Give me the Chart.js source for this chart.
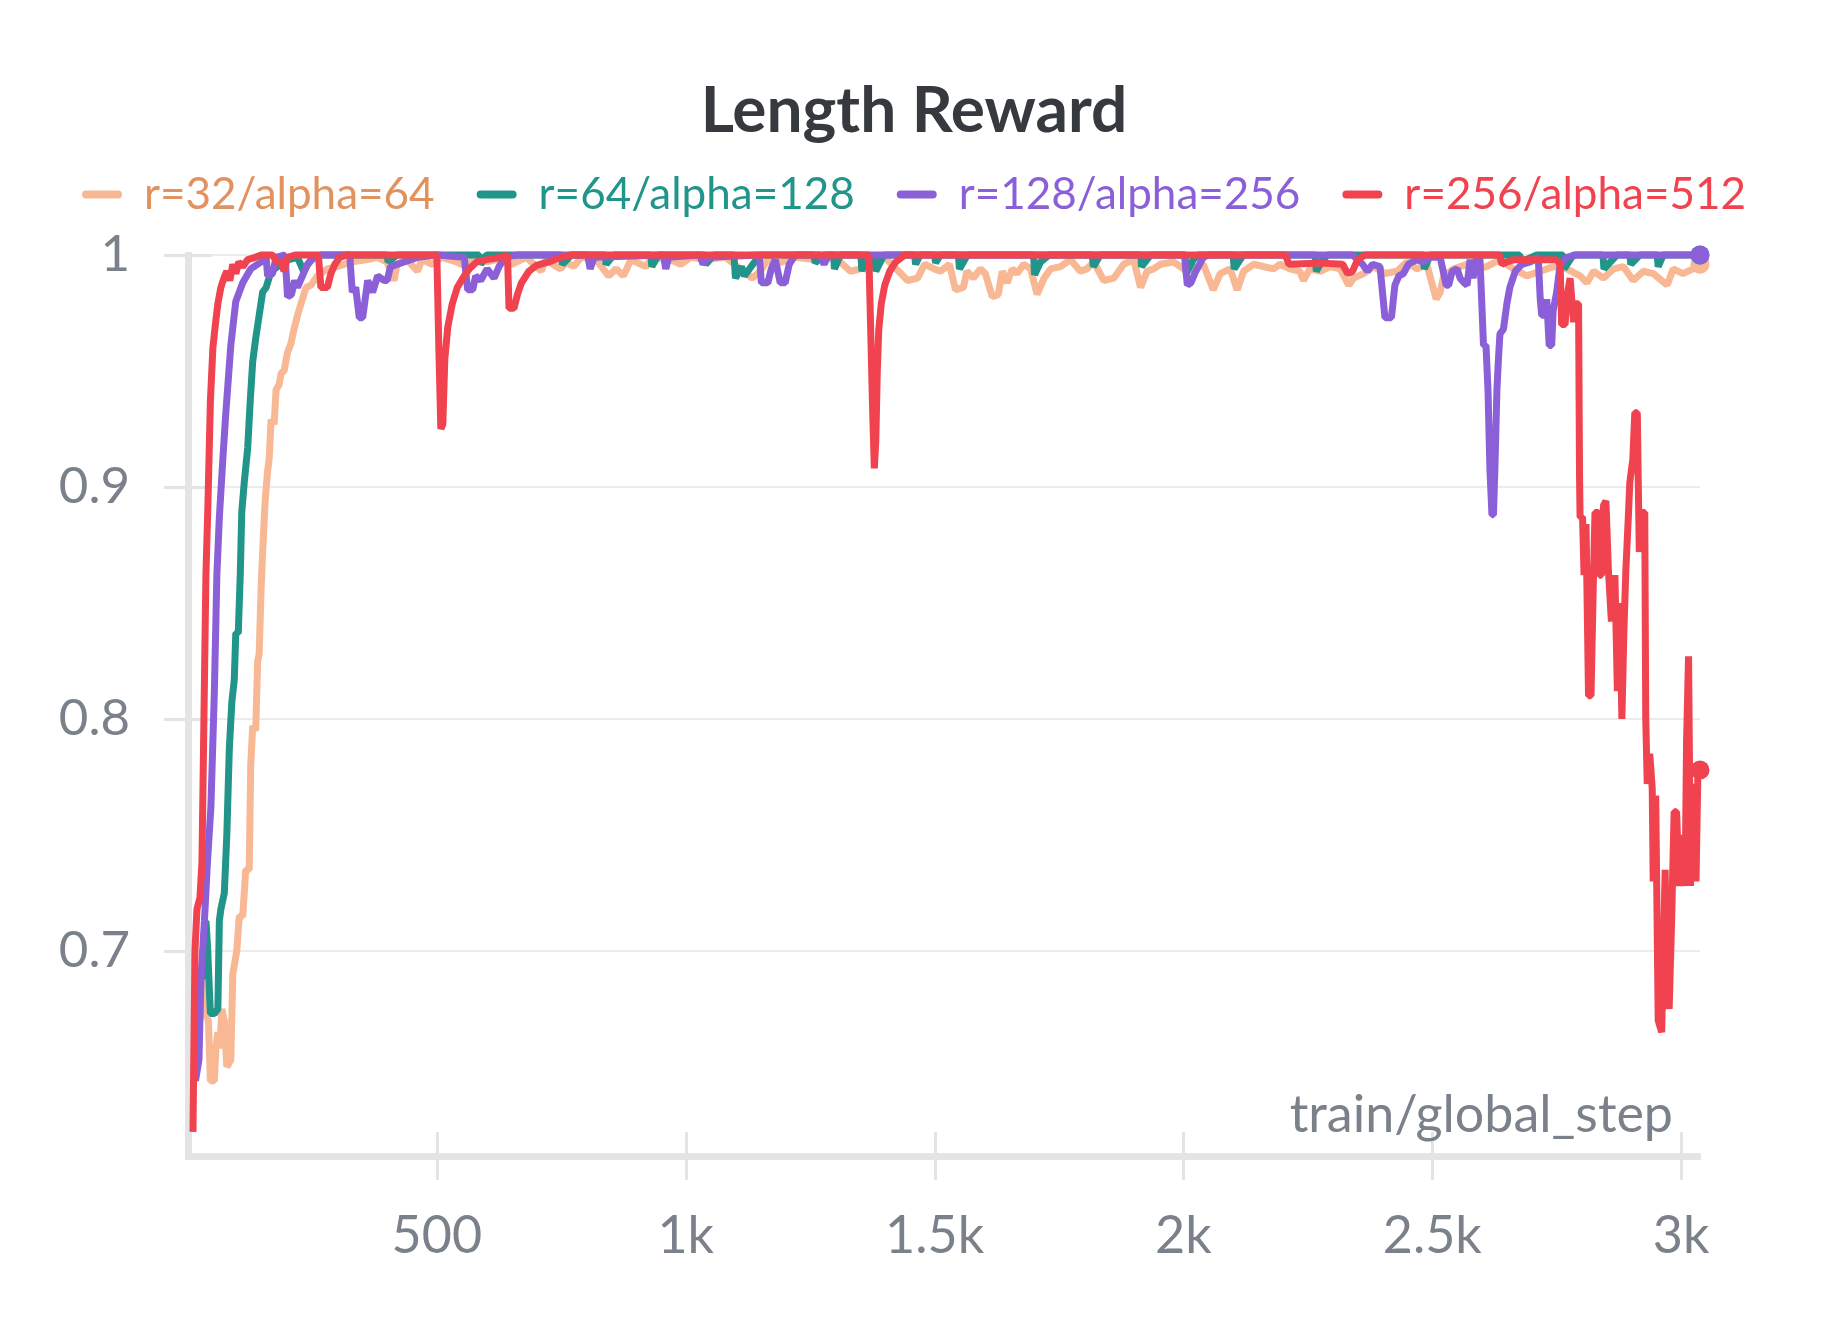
<!DOCTYPE html>
<html>
<head>
<meta charset="utf-8">
<title>Length Reward</title>
<script src="https://cdn.jsdelivr.net/npm/chart.js@4.4.1/dist/chart.umd.min.js"></script>
<style>
  html, body { margin: 0; padding: 0; background: #ffffff; }
  #wrap { width: 1828px; height: 1328px; }
</style>
</head>
<body>
<div id="wrap"><canvas id="chart1"></canvas></div>
<script>
const runNames = ['r=32/alpha=64', 'r=64/alpha=128', 'r=128/alpha=256', 'r=256/alpha=512'];
const xTicks = [500, 1000, 1500, 2000, 2500, 3000];
const yTicks = [0.7, 0.8, 0.9, 1];

// r=32/alpha=64
const orangeSteps = [26, 29, 34, 41, 45, 53, 56, 60, 64, 68, 73, 78, 86, 90, 98, 103, 110, 116, 123, 126, 130, 136, 140, 143, 147, 150, 155, 160, 163, 167, 173, 177, 183, 187, 193, 200, 207, 213, 220, 230, 237, 247, 260, 280, 300, 327, 361, 380, 400, 414, 420, 440, 461, 470, 490, 510, 540, 560, 575, 600, 620, 650, 680, 710, 718, 749, 760, 775, 790, 820, 845, 860, 875, 890, 920, 930, 960, 990, 1010, 1040, 1080, 1134, 1150, 1165, 1180, 1220, 1260, 1300, 1331, 1351, 1365, 1400, 1446, 1466, 1480, 1500, 1512, 1530, 1542, 1558, 1565, 1578, 1592, 1602, 1616, 1628, 1636, 1646, 1656, 1666, 1679, 1693, 1706, 1720, 1733, 1753, 1773, 1793, 1806, 1820, 1840, 1860, 1880, 1900, 1914, 1927, 1940, 1954, 1980, 2007, 2040, 2060, 2074, 2094, 2108, 2121, 2141, 2181, 2194, 2214, 2234, 2241, 2254, 2275, 2295, 2315, 2332, 2342, 2362, 2382, 2405, 2429, 2449, 2469, 2489, 2508, 2516, 2523, 2543, 2570, 2590, 2609, 2636, 2663, 2690, 2717, 2743, 2770, 2797, 2811, 2824, 2844, 2864, 2884, 2904, 2924, 2944, 2972, 2984, 3004, 3024, 3038];
const orangeVals = [0.690, 0.688, 0.673, 0.670, 0.644, 0.644, 0.658, 0.665, 0.658, 0.675, 0.670, 0.650, 0.653, 0.690, 0.700, 0.715, 0.715, 0.735, 0.735, 0.780, 0.797, 0.795, 0.825, 0.828, 0.857, 0.872, 0.894, 0.907, 0.912, 0.929, 0.927, 0.942, 0.944, 0.949, 0.950, 0.958, 0.962, 0.968, 0.974, 0.981, 0.986, 0.987, 0.991, 0.994, 0.995, 0.997, 0.998, 0.999, 0.997, 0.989, 0.996, 0.998, 0.993, 0.998, 0.996, 0.999, 0.997, 0.995, 0.999, 0.997, 0.998, 0.996, 0.999, 0.993, 0.998, 0.994, 0.997, 0.995, 0.999, 0.998, 0.991, 0.994, 0.991, 0.998, 0.995, 0.998, 0.999, 0.996, 0.999, 0.998, 0.999, 0.990, 0.993, 0.998, 0.996, 0.999, 0.998, 0.999, 0.993, 0.994, 0.998, 0.999, 0.989, 0.990, 0.996, 0.994, 0.993, 0.996, 0.985, 0.986, 0.993, 0.990, 0.994, 0.992, 0.982, 0.983, 0.993, 0.988, 0.994, 0.992, 0.996, 0.994, 0.983, 0.990, 0.994, 0.995, 0.998, 0.993, 0.994, 0.997, 0.989, 0.990, 0.996, 0.998, 0.986, 0.993, 0.994, 0.996, 0.997, 0.993, 0.996, 0.985, 0.992, 0.994, 0.985, 0.993, 0.996, 0.994, 0.996, 0.994, 0.993, 0.989, 0.994, 0.993, 0.995, 0.994, 0.987, 0.990, 0.992, 0.995, 0.992, 0.993, 0.997, 0.994, 0.996, 0.981, 0.984, 0.991, 0.994, 0.996, 0.994, 0.995, 0.998, 0.994, 0.991, 0.993, 0.995, 0.994, 0.991, 0.988, 0.993, 0.990, 0.994, 0.995, 0.989, 0.993, 0.992, 0.987, 0.994, 0.992, 0.994, 0.996];

// r=64/alpha=128
const tealSteps = [20, 29, 36, 39, 45, 53, 60, 63, 66, 73, 78, 83, 88, 93, 96, 101, 105, 108, 113, 120, 125, 130, 136, 143, 150, 157, 167, 180, 193, 220, 232, 250, 265, 400, 402, 420, 585, 588, 600, 750, 752, 770, 838, 840, 855, 930, 932, 945, 1038, 1040, 1057, 1097, 1100, 1112, 1118, 1135, 1150, 1258, 1260, 1277, 1297, 1299, 1311, 1352, 1354, 1365, 1380, 1382, 1398, 1460, 1462, 1471, 1500, 1502, 1512, 1548, 1550, 1566, 1699, 1701, 1713, 1730, 1817, 1819, 1833, 1914, 1916, 1934, 2004, 2006, 2020, 2030, 2100, 2102, 2120, 2265, 2267, 2280, 2290, 2482, 2484, 2496, 2676, 2678, 2710, 2763, 2765, 2783, 2843, 2845, 2871, 2897, 2899, 2917, 2952, 2954, 2964, 3038];
const tealVals = [0.690, 0.688, 0.713, 0.703, 0.673, 0.673, 0.675, 0.713, 0.718, 0.725, 0.750, 0.787, 0.807, 0.817, 0.837, 0.837, 0.862, 0.889, 0.902, 0.917, 0.937, 0.954, 0.964, 0.974, 0.984, 0.986, 0.993, 0.995, 0.9975, 0.999, 0.993, 0.999, 1, 1, 0.997, 1, 1, 0.996, 1, 1, 0.996, 1, 1, 0.996, 1, 1, 0.995, 1, 1, 0.996, 1, 1, 0.990, 0.995, 0.991, 0.996, 1, 1, 0.9966, 1, 1, 0.994, 1, 1, 0.993, 1, 0.999, 0.993, 1, 1, 0.996, 1, 1, 0.9966, 1, 1, 0.994, 1, 1, 0.9915, 0.997, 1, 1, 0.995, 1, 1, 0.995, 1, 1, 0.992, 0.998, 1, 1, 0.994, 1, 1, 0.993, 0.998, 1, 1, 0.994, 1, 1, 0.997, 1, 1, 0.994, 1, 1, 0.994, 1, 1, 0.996, 1, 1, 0.995, 1, 1];

// r=128/alpha=256
const purpleSteps = [15, 22, 26, 33, 39, 46, 53, 58, 63, 70, 76, 86, 96, 110, 126, 147, 157, 160, 170, 177, 195, 200, 208, 214, 220, 230, 240, 254, 267, 325, 330, 337, 344, 351, 361, 371, 381, 394, 400, 407, 434, 461, 501, 555, 562, 572, 578, 588, 601, 615, 625, 638, 662, 803, 808, 816, 955, 960, 966, 1028, 1035, 1045, 1148, 1152, 1165, 1172, 1180, 1190, 1200, 1208, 1220, 1270, 1278, 1287, 2002, 2008, 2015, 2025, 2040, 2050, 2340, 2360, 2370, 2380, 2395, 2405, 2418, 2425, 2433, 2442, 2452, 2469, 2482, 2495, 2516, 2528, 2533, 2540, 2550, 2556, 2564, 2570, 2576, 2582, 2589, 2596, 2603, 2608, 2612, 2616, 2620, 2623, 2626, 2630, 2633, 2636, 2643, 2650, 2656, 2667, 2680, 2697, 2713, 2717, 2720, 2727, 2730, 2735, 2740, 2743, 2750, 2757, 2770, 2790, 3038];
const purpleVals = [0.644, 0.653, 0.688, 0.713, 0.738, 0.762, 0.812, 0.862, 0.887, 0.912, 0.932, 0.961, 0.980, 0.988, 0.994, 0.997, 0.999, 0.991, 0.992, 0.999, 1, 0.982, 0.983, 0.989, 0.986, 0.991, 0.996, 0.999, 1, 1, 0.984, 0.986, 0.973, 0.973, 0.989, 0.984, 0.991, 0.989, 0.989, 0.995, 0.997, 0.999, 1, 0.999, 0.985, 0.985, 0.991, 0.989, 0.994, 0.990, 0.995, 0.999, 1, 1, 0.994, 0.999, 1, 0.994, 0.999, 1, 0.996, 0.999, 1, 0.988, 0.988, 0.994, 0.998, 0.988, 0.988, 0.996, 1, 1, 0.996, 1, 1, 0.987, 0.988, 0.993, 0.999, 1, 1, 0.996, 0.993, 0.996, 0.995, 0.973, 0.973, 0.987, 0.991, 0.992, 0.996, 0.998, 0.997, 0.999, 0.999, 0.987, 0.987, 0.993, 0.994, 0.990, 0.988, 0.987, 0.998, 0.990, 0.999, 0.998, 0.961, 0.961, 0.942, 0.907, 0.888, 0.888, 0.909, 0.942, 0.955, 0.966, 0.968, 0.979, 0.986, 0.993, 0.996, 0.997, 0.999, 0.981, 0.974, 0.974, 0.981, 0.961, 0.961, 0.976, 0.984, 0.996, 0.999, 1, 1];

// r=256/alpha=512
const redSteps = [10, 14, 18, 24, 28, 32, 36, 40, 45, 50, 55, 60, 66, 72, 78, 84, 90, 96, 102, 110, 120, 135, 147, 170, 178, 187, 193, 200, 215, 262, 267, 280, 287, 295, 305, 320, 500, 504, 508, 512, 516, 522, 531, 541, 552, 565, 580, 600, 630, 642, 645, 655, 662, 670, 685, 700, 725, 750, 770, 1368, 1372, 1376, 1379, 1382, 1385, 1388, 1393, 1400, 1410, 1422, 1440, 2205, 2212, 2280, 2320, 2330, 2340, 2350, 2365, 2635, 2640, 2650, 2665, 2750, 2757, 2760, 2767, 2770, 2777, 2784, 2787, 2794, 2796, 2797, 2802, 2805, 2809, 2814, 2819, 2824, 2827, 2834, 2836, 2840, 2844, 2849, 2854, 2860, 2867, 2872, 2877, 2881, 2885, 2889, 2894, 2897, 2903, 2907, 2912, 2916, 2921, 2927, 2929, 2932, 2937, 2942, 2944, 2949, 2954, 2961, 2968, 2971, 2976, 2981, 2986, 2991, 2996, 3003, 3008, 3011, 3015, 3019, 3024, 3030, 3034, 3038];
const redVals = [0.622, 0.700, 0.718, 0.723, 0.738, 0.800, 0.862, 0.892, 0.937, 0.960, 0.970, 0.979, 0.986, 0.990, 0.993, 0.989, 0.996, 0.992, 0.997, 0.995, 0.998, 0.999, 1, 1, 0.997, 0.997, 0.993, 0.999, 1, 1, 0.986, 0.986, 0.992, 0.996, 0.999, 1, 1, 0.960, 0.925, 0.927, 0.955, 0.969, 0.979, 0.986, 0.990, 0.994, 0.997, 0.998, 0.999, 1, 0.977, 0.977, 0.983, 0.988, 0.993, 0.9955, 0.997, 0.999, 1, 1, 0.965, 0.930, 0.908, 0.920, 0.950, 0.968, 0.979, 0.987, 0.993, 0.997, 1, 1, 0.996, 0.9965, 0.996, 0.992, 0.993, 0.998, 1, 1, 0.996, 0.997, 0.998, 0.998, 0.996, 0.970, 0.970, 0.981, 0.990, 0.971, 0.979, 0.979, 0.904, 0.887, 0.887, 0.862, 0.884, 0.810, 0.810, 0.862, 0.889, 0.889, 0.862, 0.862, 0.892, 0.894, 0.864, 0.842, 0.862, 0.812, 0.850, 0.800, 0.837, 0.864, 0.887, 0.902, 0.912, 0.932, 0.932, 0.872, 0.889, 0.889, 0.800, 0.772, 0.785, 0.770, 0.730, 0.767, 0.670, 0.665, 0.735, 0.688, 0.675, 0.713, 0.760, 0.760, 0.728, 0.750, 0.728, 0.790, 0.827, 0.728, 0.772, 0.730, 0.780, 0.778];

const lineColors = ['#f8b893', '#21958a', '#8a5fd8', '#f0434f'];
const textColors = ['#e2925f', '#21958a', '#8a5fd8', '#f0434f'];
const fontFamily = "'Source Sans Pro', Lato, sans-serif";
const tickColor = '#7b818a';
const axisColor = '#e4e4e7';

function pts(steps, vals) {
  return steps.map((s, i) => ({ x: s, y: vals[i] }));
}

function runDataset(i, steps, vals, order) {
  const last = steps.length - 1;
  return {
    label: runNames[i],
    data: pts(steps, vals),
    borderColor: lineColors[i],
    backgroundColor: lineColors[i],
    borderWidth: 7,
    borderJoinStyle: 'bevel',
    tension: 0,
    pointRadius: ctx => ctx.dataIndex === last ? 9.5 : 0,
    pointBorderWidth: 0,
    pointHoverRadius: 0,
    clip: false,
    order: order
  };
}

// tick crosses on both axes and the x title inside the plot
const axisMarks = {
  id: 'axisMarks',
  beforeDatasetsDraw(chart) {
    const { ctx, chartArea, scales } = chart;
    ctx.save();
    ctx.strokeStyle = axisColor;
    ctx.lineWidth = 3;
    ctx.beginPath();
    xTicks.forEach(v => {
      const px = Math.round(scales.x.getPixelForValue(v)) + 0.5;
      ctx.moveTo(px, chartArea.bottom - 24);
      ctx.lineTo(px, chartArea.bottom + 24);
    });
    yTicks.forEach(v => {
      const py = Math.round(scales.y.getPixelForValue(v)) + 0.5;
      ctx.moveTo(chartArea.left - 24, py);
      ctx.lineTo(chartArea.left + 24, py);
    });
    ctx.stroke();
    ctx.fillStyle = tickColor;
    ctx.font = '52px ' + fontFamily;
    ctx.textAlign = 'right';
    ctx.textBaseline = 'alphabetic';
    ctx.fillText('train/global_step', chartArea.right - 27, chartArea.bottom - 24);
    ctx.restore();
  }
};

const chart1 = document.getElementById('chart1').getContext('2d');
new Chart(chart1, {
  type: 'line',
  data: {
    datasets: [
      runDataset(0, orangeSteps, orangeVals, 3),
      runDataset(1, tealSteps, tealVals, 2),
      runDataset(2, purpleSteps, purpleVals, 1),
      runDataset(3, redSteps, redVals, 0)
    ]
  },
  options: {
    responsive: true,
    maintainAspectRatio: false,
    devicePixelRatio: 1,
    animation: false,
    layout: { padding: 0 },
    plugins: {
      title: {
        display: true,
        text: 'Length Reward',
        color: '#36393d',
        font: { family: fontFamily, size: 64, weight: 'bold', lineHeight: 0.4 },
        padding: { top: 99, bottom: 6 }
      },
      // empty spacer between legend and plot
      subtitle: {
        display: true,
        text: '',
        weight: 500,
        font: { size: 10, lineHeight: 1 },
        padding: { top: 18.4, bottom: 0 }
      },
      legend: {
        position: 'top',
        labels: {
          boxWidth: 40,
          boxHeight: 8,
          padding: 42,
          useBorderRadius: true,
          borderRadius: 4,
          font: { family: fontFamily, size: 44 },
          generateLabels: chart => chart.data.datasets.map((ds, i) => ({
            text: ds.label,
            fillStyle: lineColors[i],
            strokeStyle: lineColors[i],
            lineWidth: 0,
            fontColor: textColors[i],
            borderRadius: 4,
            hidden: false,
            datasetIndex: i
          }))
        }
      },
      tooltip: { enabled: false }
    },
    scales: {
      x: {
        type: 'linear',
        min: 0,
        max: 3038,
        afterFit: s => { s.height = 172; s.paddingRight = 128; },
        afterBuildTicks: s => { s.ticks = xTicks.map(v => ({ value: v })); },
        grid: { display: true, drawOnChartArea: false, drawTicks: false },
        border: { display: true, color: axisColor, width: 7 },
        ticks: {
          padding: 49,
          color: tickColor,
          maxRotation: 0,
          autoSkip: false,
          font: { family: fontFamily, size: 52 },
          callback: v => v >= 1000 ? (v / 1000) + 'k' : String(v)
        }
      },
      y: {
        type: 'linear',
        min: 0.6116,
        max: 1,
        afterFit: s => { s.width = 188; },
        afterBuildTicks: s => { s.ticks = yTicks.map(v => ({ value: v })); },
        grid: { color: '#ececec', lineWidth: 2, drawTicks: false },
        border: { display: true, color: axisColor, width: 7 },
        ticks: {
          padding: 58,
          color: tickColor,
          font: { family: fontFamily, size: 51 },
          callback: v => String(v)
        }
      }
    }
  },
  plugins: [axisMarks]
});
</script>
</body>
</html>
